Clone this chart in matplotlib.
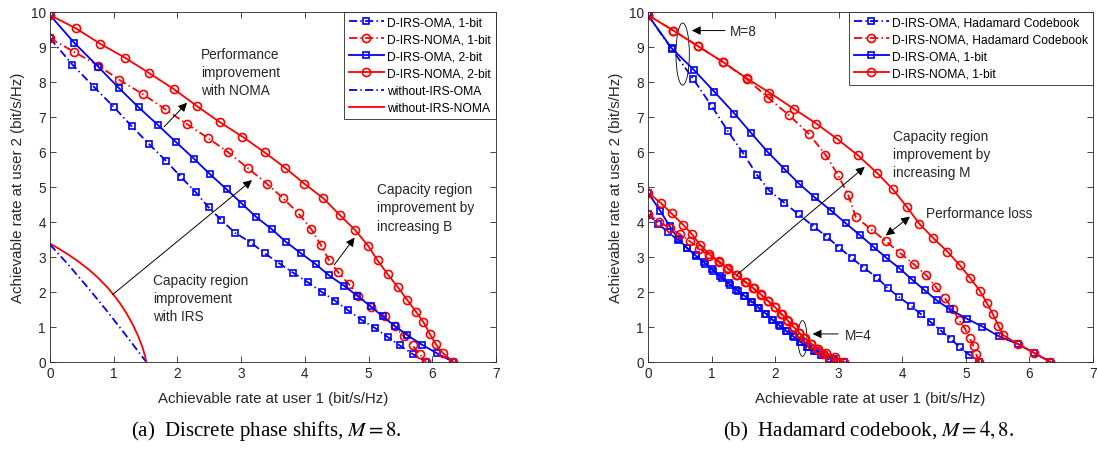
import matplotlib.pyplot as plt
from matplotlib.patches import Ellipse

plt.rcParams["font.family"] = ["Liberation Sans", "DejaVu Sans"]
plt.rcParams["mathtext.fontset"] = "stix"

AXC = "#262626"
BLUE = (0.0, 0.0, 1.0)
RED = (1.0, 0.0, 0.0)

# ---- (a) discrete phase shifts, M = 8 ----
a_oma1_x = [0, 0.35, 0.69, 1.00, 1.28, 1.56, 1.82, 2.06, 2.29, 2.49, 2.69, 2.90, 3.15,
            3.37, 3.60, 3.82, 4.05, 4.27, 4.48, 4.68, 4.89, 5.10, 5.30, 5.49, 5.69, 5.90]
a_oma1_y = [9.24, 8.49, 7.85, 7.28, 6.73, 6.21, 5.74, 5.27, 4.84, 4.41, 4.05, 3.69, 3.41,
            3.10, 2.81, 2.54, 2.27, 1.99, 1.74, 1.47, 1.20, 0.97, 0.71, 0.47, 0.23, 0.00]
a_noma1_x = [0, 0.37, 0.76, 1.09, 1.46, 1.81, 2.15, 2.48, 2.80, 3.10, 3.40, 3.66, 3.90,
             4.10, 4.25, 4.38, 4.52, 4.69, 4.84, 5.04, 5.26, 5.41, 5.55, 5.69, 5.80, 5.90]
a_noma1_y = [9.24, 8.86, 8.46, 8.05, 7.64, 7.21, 6.79, 6.39, 5.98, 5.54, 5.09, 4.67, 4.24,
             3.79, 3.34, 2.90, 2.56, 2.22, 1.89, 1.58, 1.30, 1.02, 0.73, 0.47, 0.23, 0.00]
a_oma2_x = [0, 0.38, 0.76, 1.08, 1.39, 1.69, 1.98, 2.26, 2.51, 2.77, 3.01, 3.24, 3.48,
            3.70, 3.94, 4.17, 4.38, 4.61, 4.82, 5.03, 5.22, 5.41, 5.61, 5.84, 6.07, 6.33]
a_oma2_y = [9.90, 9.11, 8.42, 7.82, 7.27, 6.77, 6.27, 5.80, 5.36, 4.93, 4.52, 4.13, 3.79,
            3.43, 3.10, 2.79, 2.47, 2.18, 1.89, 1.59, 1.30, 1.03, 0.76, 0.49, 0.25, 0.00]
a_noma2_x = [0, 0.40, 0.79, 1.18, 1.56, 1.95, 2.30, 2.66, 3.02, 3.37, 3.69, 3.99, 4.29,
             4.55, 4.79, 4.99, 5.14, 5.30, 5.46, 5.61, 5.74, 5.86, 5.96, 6.05, 6.16, 6.33]
a_noma2_y = [9.90, 9.53, 9.08, 8.68, 8.24, 7.78, 7.31, 6.85, 6.43, 5.98, 5.54, 5.09, 4.67,
             4.19, 3.76, 3.32, 2.90, 2.50, 2.13, 1.76, 1.44, 1.14, 0.80, 0.52, 0.26, 0.00]
a_woma_x = [0, 0.30, 0.60, 0.90, 1.20, 1.51]
a_woma_y = [3.35, 2.75, 2.11, 1.44, 0.74, 0.00]
a_wnoma_x = [0, 0.15, 0.30, 0.45, 0.60, 0.75, 0.90, 1.00, 1.10, 1.20, 1.30, 1.38, 1.45,
             1.49, 1.51]
a_wnoma_y = [3.38, 3.22, 3.05, 2.86, 2.65, 2.41, 2.13, 1.91, 1.67, 1.39, 1.06, 0.75, 0.42,
             0.18, 0.00]

# ---- (b) Hadamard codebook, M = 4 and M = 8 ----
b_omah8_x = [0, 0.37, 0.71, 1.00, 1.26, 1.50, 1.71, 1.91, 2.14, 2.37, 2.61, 2.81, 3.01,
             3.21, 3.40, 3.60, 3.77, 3.95, 4.13, 4.29, 4.45, 4.61, 4.77, 4.90, 5.05, 5.21]
b_omah8_y = [9.90, 8.94, 8.08, 7.31, 6.58, 5.95, 5.35, 4.89, 4.55, 4.21, 3.86, 3.58, 3.26,
             2.96, 2.68, 2.41, 2.11, 1.85, 1.61, 1.37, 1.13, 0.89, 0.65, 0.42, 0.21, 0.00]
b_nomah8_x = [0, 0.40, 0.79, 1.18, 1.55, 1.89, 2.22, 2.53, 2.79, 2.99, 3.15, 3.27, 3.50,
              3.74, 3.97, 4.18, 4.38, 4.53, 4.67, 4.79, 4.89, 4.99, 5.06, 5.12, 5.16, 5.21]
b_nomah8_y = [9.90, 9.46, 9.01, 8.56, 8.08, 7.54, 7.04, 6.51, 5.92, 5.33, 4.76, 4.13, 3.80,
              3.45, 3.10, 2.79, 2.47, 2.13, 1.82, 1.52, 1.20, 0.94, 0.68, 0.45, 0.23, 0.00]
b_oma8_x = [0, 0.37, 0.72, 1.04, 1.36, 1.62, 1.88, 2.15, 2.38, 2.62, 2.88, 3.11, 3.34,
            3.55, 3.75, 3.97, 4.16, 4.35, 4.54, 4.75, 5.02, 5.26, 5.52, 5.82, 6.07, 6.33]
b_oma8_y = [9.90, 8.96, 8.34, 7.72, 7.09, 6.54, 6.00, 5.50, 5.08, 4.70, 4.32, 3.96, 3.61,
            3.28, 2.97, 2.65, 2.34, 2.05, 1.76, 1.50, 1.23, 1.01, 0.73, 0.51, 0.26, 0.00]
b_noma8_x = [0, 0.40, 0.79, 1.18, 1.55, 1.91, 2.29, 2.65, 2.98, 3.30, 3.60, 3.85, 4.07,
             4.27, 4.49, 4.71, 4.90, 5.07, 5.22, 5.33, 5.42, 5.51, 5.59, 5.82, 6.07, 6.33]
b_noma8_y = [9.90, 9.46, 9.01, 8.56, 8.10, 7.69, 7.23, 6.80, 6.36, 5.90, 5.40, 4.93, 4.43,
             3.94, 3.53, 3.15, 2.77, 2.39, 2.03, 1.68, 1.38, 1.04, 0.76, 0.51, 0.26, 0.00]

b_omah4_x = [0, 0.16, 0.32, 0.47, 0.61, 0.75, 0.88, 1.01, 1.14, 1.27, 1.39, 1.51, 1.62,
             1.73, 1.84, 1.95, 2.06, 2.17, 2.28, 2.39, 2.50, 2.61, 2.72, 2.84, 2.97]
b_omah4_y = [4.22, 3.94, 3.70, 3.48, 3.26, 3.04, 2.84, 2.64, 2.44, 2.24, 2.06, 1.89, 1.72,
             1.55, 1.38, 1.21, 1.05, 0.89, 0.73, 0.58, 0.44, 0.31, 0.19, 0.08, 0.00]
b_nomah4_x = [0, 0.18, 0.34, 0.50, 0.66, 0.81, 0.96, 1.11, 1.25, 1.39, 1.52, 1.65, 1.77,
              1.88, 1.99, 2.09, 2.19, 2.28, 2.37, 2.46, 2.56, 2.66, 2.76, 2.86, 2.97]
b_nomah4_y = [4.22, 3.99, 3.82, 3.65, 3.44, 3.23, 3.03, 2.85, 2.66, 2.47, 2.29, 2.11, 1.93,
              1.75, 1.57, 1.38, 1.19, 1.01, 0.84, 0.67, 0.51, 0.37, 0.23, 0.11, 0.00]
b_oma4_x = [0, 0.19, 0.34, 0.48, 0.62, 0.76, 0.90, 1.03, 1.16, 1.29, 1.41, 1.53, 1.64,
            1.75, 1.86, 1.96, 2.07, 2.18, 2.29, 2.40, 2.52, 2.64, 2.77, 2.92, 3.09]
b_oma4_y = [4.83, 4.32, 3.88, 3.50, 3.24, 3.02, 2.81, 2.61, 2.41, 2.21, 2.03, 1.87, 1.71,
            1.54, 1.37, 1.20, 1.04, 0.88, 0.72, 0.57, 0.44, 0.32, 0.20, 0.09, 0.00]
b_noma4_x = [0, 0.20, 0.37, 0.55, 0.69, 0.82, 0.96, 1.12, 1.26, 1.40, 1.54, 1.66, 1.78,
             1.89, 2.00, 2.10, 2.20, 2.29, 2.38, 2.47, 2.57, 2.68, 2.80, 2.94, 3.09]
b_noma4_y = [4.83, 4.54, 4.24, 3.92, 3.65, 3.34, 3.08, 2.87, 2.67, 2.47, 2.28, 2.10, 1.92,
             1.74, 1.56, 1.37, 1.18, 1.00, 0.83, 0.67, 0.52, 0.38, 0.26, 0.13, 0.00]

legend_a = ["D-IRS-OMA, 1-bit", "D-IRS-NOMA, 1-bit", "D-IRS-OMA, 2-bit",
            "D-IRS-NOMA, 2-bit", "without-IRS-OMA", "without-IRS-NOMA"]
legend_b = ["D-IRS-OMA, Hadamard Codebook", "D-IRS-NOMA, Hadamard Codebook",
            "D-IRS-OMA, 1-bit", "D-IRS-NOMA, 1-bit"]
caption_a = "(a)  Discrete phase shifts, $M=8$."
caption_b = "(b)  Hadamard codebook, $M=4,8$."

LW = 1.3
DASHDOT = (0, (4.5, 1.8, 0.8, 1.8))
OMA_DD = dict(color=BLUE, lw=LW, ls=DASHDOT, marker="s", ms=4.8, mew=1.2, mfc="none")
NOMA_DD = dict(color=RED, lw=LW, ls=DASHDOT, marker="o", ms=5.8, mew=1.2, mfc="none")
OMA_S = dict(color=BLUE, lw=LW, ls="-", marker="s", ms=4.8, mew=1.2, mfc="none")
NOMA_S = dict(color=RED, lw=LW, ls="-", marker="o", ms=5.8, mew=1.2, mfc="none")


def style_axes(ax):
    ax.set_xlim(0, 7)
    ax.set_ylim(0, 10)
    ax.set_xticks(range(8))
    ax.set_yticks(range(11))
    ax.tick_params(direction="in", top=True, right=True, length=4, width=0.6,
                   colors=AXC, labelsize=9.8, pad=3)
    for sp in ax.spines.values():
        sp.set_color(AXC)
        sp.set_linewidth(0.6)
    ax.set_xlabel("Achievable rate at user 1 (bit/s/Hz)", fontsize=10.8, color=AXC,
                  labelpad=8)
    ax.set_ylabel("Achievable rate at user 2 (bit/s/Hz)", fontsize=10.8, color=AXC,
                  labelpad=4)


def add_legend(ax, labels):
    leg = ax.legend(labels=labels, handles=ax.get_lines()[:len(labels)],
                    loc="upper right", borderaxespad=0, fancybox=False,
                    framealpha=1, edgecolor=AXC, fontsize=8.7, handlelength=2.9,
                    handletextpad=0.3, labelspacing=0.42, borderpad=0.4)
    leg.get_frame().set_linewidth(0.6)


def arrow(ax, tail, head, style="-|>"):
    ax.annotate("", xy=head, xytext=tail,
                arrowprops=dict(arrowstyle=style, color="k", lw=0.7,
                                mutation_scale=13, shrinkA=0, shrinkB=0))


fig = plt.figure(figsize=(10.97, 4.52), dpi=100)
ax_a = fig.add_axes([0.0456, 0.197, 0.4066, 0.775])
ax_b = fig.add_axes([0.5907, 0.197, 0.4057, 0.775])

# Panel (a)
ax_a.plot(a_oma1_x, a_oma1_y, **OMA_DD)
ax_a.plot(a_noma1_x, a_noma1_y, **NOMA_DD)
ax_a.plot(a_oma2_x, a_oma2_y, **OMA_S)
ax_a.plot(a_noma2_x, a_noma2_y, **NOMA_S)
ax_a.plot(a_woma_x, a_woma_y, color=BLUE, lw=LW, ls=DASHDOT)
ax_a.plot(a_wnoma_x, a_wnoma_y, color=RED, lw=LW, ls="-")
style_axes(ax_a)
add_legend(ax_a, legend_a)

txt = dict(fontsize=9.8, color=AXC, va="center", ha="left", linespacing=1.38)
ax_a.text(2.37, 8.27, "Performance\nimprovement\nwith NOMA", **txt)
ax_a.text(5.13, 4.41, "Capacity region\nimprovement by\nincreasing B", **txt)
ax_a.text(1.62, 1.82, "Capacity region\nimprovement\nwith IRS", **txt)
arrow(ax_a, (1.79, 6.71), (2.15, 7.40))
arrow(ax_a, (0.98, 1.92), (3.17, 5.19))
arrow(ax_a, (4.46, 2.77), (4.78, 3.55))

# Panel (b): M = 8 curves carry the legend labels, M = 4 curves reuse the styles
ax_b.plot(b_omah8_x, b_omah8_y, **OMA_DD)
ax_b.plot(b_nomah8_x, b_nomah8_y, **NOMA_DD)
ax_b.plot(b_oma8_x, b_oma8_y, **OMA_S)
ax_b.plot(b_noma8_x, b_noma8_y, **NOMA_S)
ax_b.plot(b_omah4_x, b_omah4_y, **OMA_DD)
ax_b.plot(b_oma4_x, b_oma4_y, **OMA_S)
ax_b.plot(b_nomah4_x, b_nomah4_y, **NOMA_DD)
ax_b.plot(b_noma4_x, b_noma4_y, **NOMA_S)
style_axes(ax_b)
add_legend(ax_b, legend_b)

ax_b.add_patch(Ellipse((0.545, 8.79), 0.21, 1.77, fill=False, ec="k", lw=0.6))
ax_b.add_patch(Ellipse((2.43, 0.67), 0.14, 1.02, fill=False, ec="k", lw=0.6))
arrow(ax_b, (1.21, 9.46), (0.69, 9.46))
arrow(ax_b, (2.99, 0.80), (2.59, 0.80))
ax_b.text(1.28, 9.44, "M=8", **txt)
ax_b.text(3.09, 0.78, "M=4", **txt)
ax_b.text(3.85, 5.94, "Capacity region\nimprovement by\nincreasing M", **txt)
ax_b.text(4.37, 4.26, "Performance loss", **txt)
arrow(ax_b, (1.40, 2.49), (3.41, 5.57))
arrow(ax_b, (3.74, 3.61), (4.12, 4.15), style="<|-|>")

cap = dict(fontsize=15, family=["Liberation Serif", "DejaVu Serif"], ha="center",
           va="center", color="k")
fig.text(0.243, 0.046, caption_a, **cap)
fig.text(0.792, 0.046, caption_b, **cap)

fig.savefig("out.png", dpi=100)
